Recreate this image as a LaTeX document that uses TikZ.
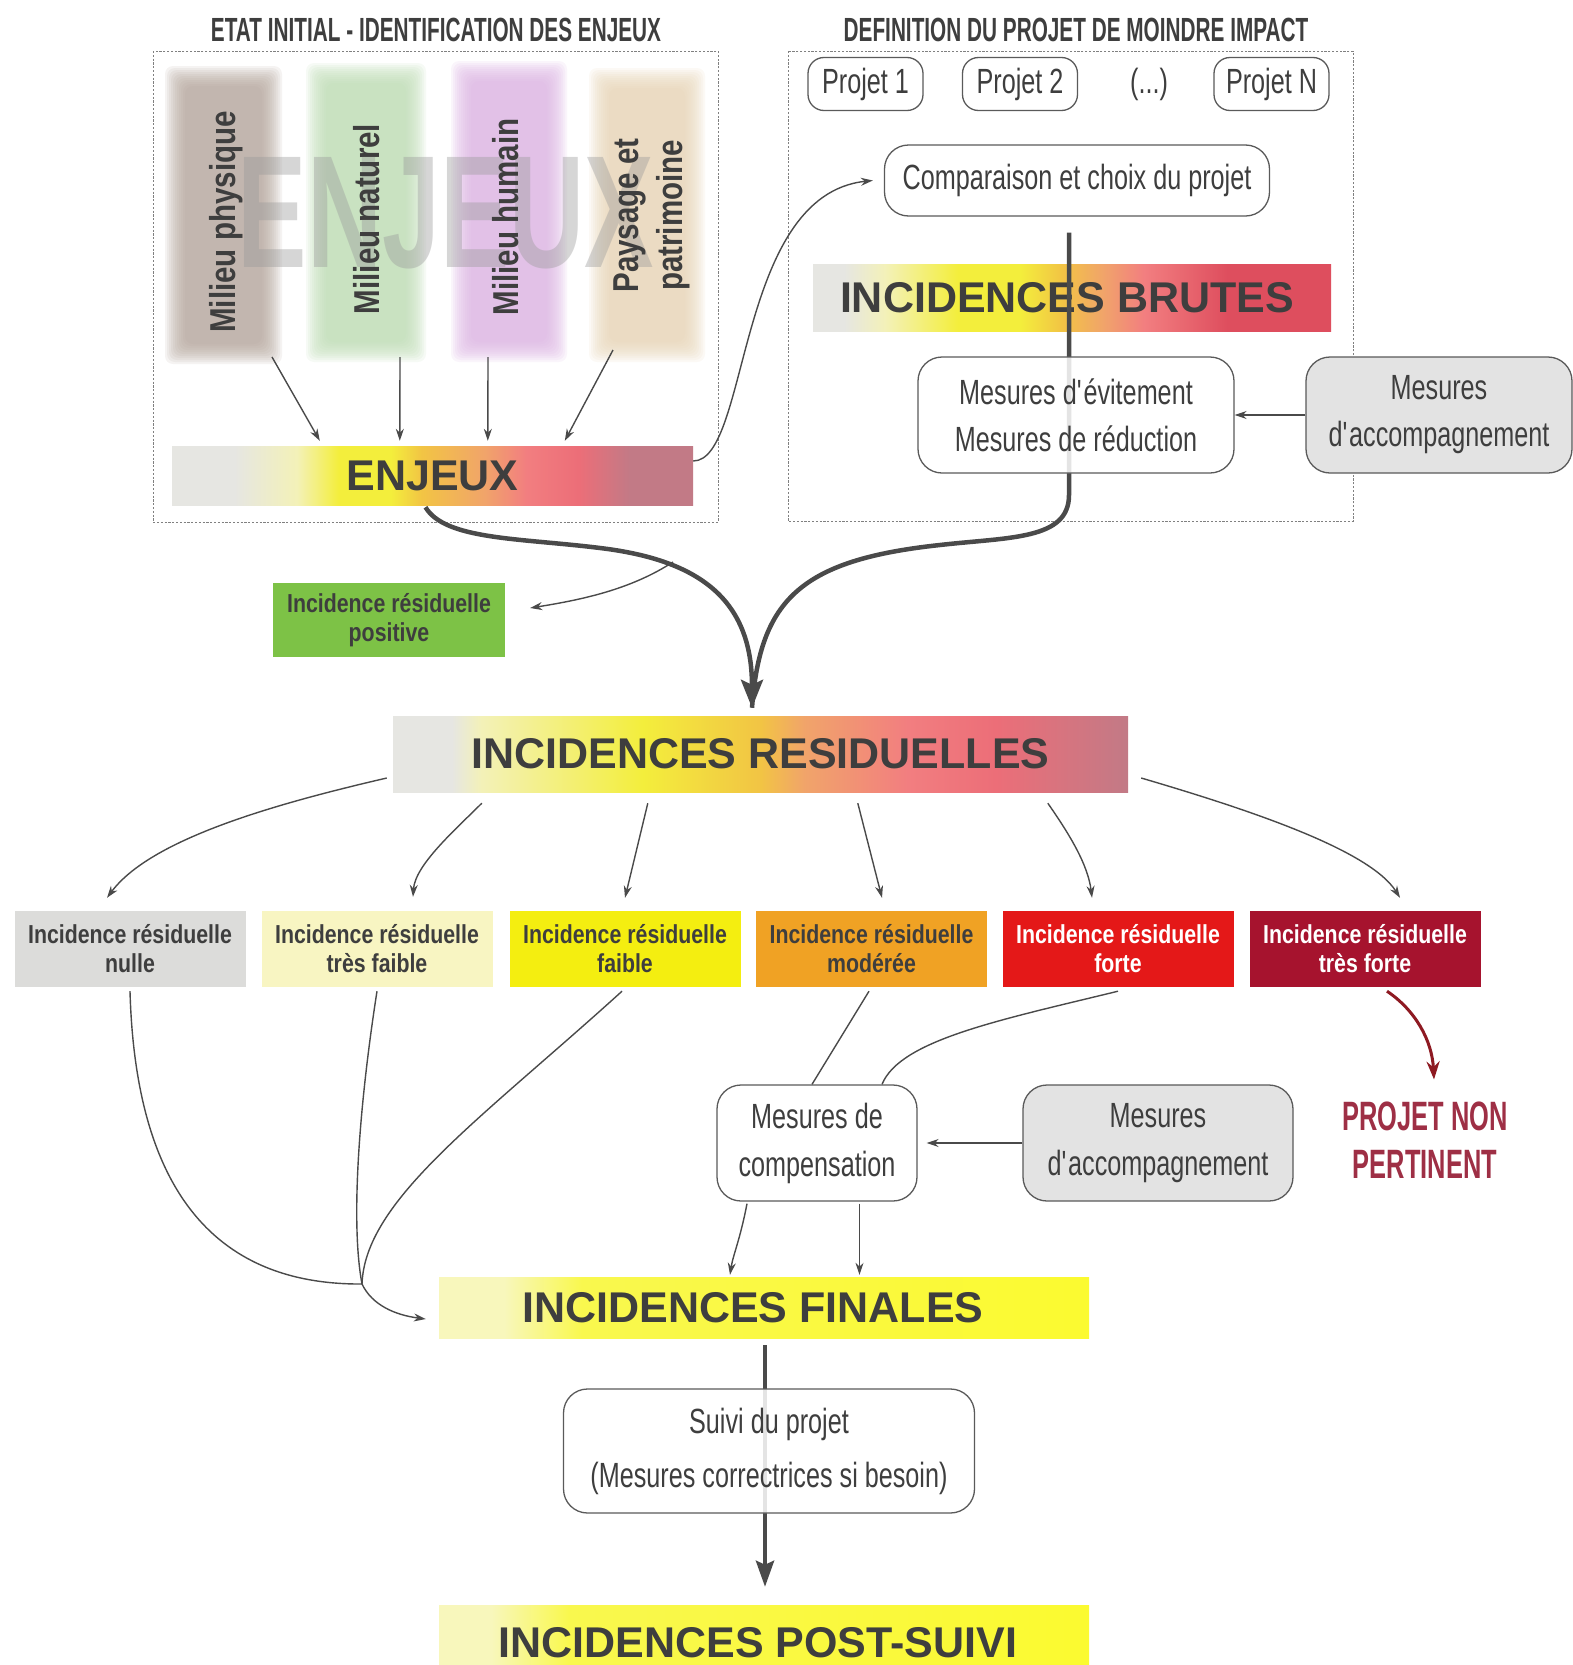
\documentclass[tikz,border=0pt]{standalone}
\usepackage{fontspec}
\setmainfont{Liberation Sans}
\newfontfamily\fR[FakeStretch=0.72]{Liberation Sans}
\newfontfamily\fB[FakeStretch=0.82]{Liberation Sans}
\newfontfamily\fT[FakeStretch=0.62]{Liberation Sans}
\newfontfamily\fW[FakeStretch=0.65]{Liberation Sans}
\usetikzlibrary{arrows.meta,calc}

\definecolor{ink}{HTML}{3E3E3E}
\definecolor{lineC}{HTML}{4A4A4A}
\definecolor{boxline}{HTML}{5A5A5A}
\definecolor{dashC}{HTML}{808080}
\definecolor{accF}{HTML}{E3E3E3}
\definecolor{darkred}{HTML}{8E1A22}
\definecolor{pnpC}{HTML}{9E2F45}
\definecolor{colPhys}{HTML}{B3A39A}
\definecolor{colNat}{HTML}{BCDDB2}
\definecolor{colHum}{HTML}{DDB2E3}
\definecolor{colPay}{HTML}{E8D4B4}
\definecolor{cNulle}{HTML}{DCDCDA}
\definecolor{cTF}{HTML}{F8F5C2}
\definecolor{cF}{HTML}{F4EE10}
\definecolor{cMod}{HTML}{F0A224}
\definecolor{cFor}{HTML}{E41818}
\definecolor{cTFo}{HTML}{A6132E}
\definecolor{cPos}{HTML}{7DC246}
\definecolor{g0}{HTML}{E6E6E2}
\definecolor{g1}{HTML}{F3F1B8}
\definecolor{g2}{HTML}{F3EE3C}
\definecolor{g3}{HTML}{F2C444}
\definecolor{g4}{HTML}{F1A46A}
\definecolor{g5}{HTML}{F27E80}
\definecolor{g6}{HTML}{EC6E78}
\definecolor{g7}{HTML}{C27A86}
\definecolor{g8}{HTML}{DE4E5E}
\definecolor{y0}{HTML}{F8F7BC}
\definecolor{y1}{HTML}{F9F84E}
\definecolor{y2}{HTML}{FBFA30}

\pgfdeclarehorizontalshading{shEnj}{100bp}{color(0bp)=(g0); color(25bp)=(g0); color(31bp)=(g0); color(37bp)=(g1); color(41bp)=(g2); color(46bp)=(g2); color(49bp)=(g3); color(55bp)=(g4); color(59bp)=(g5); color(64bp)=(g6); color(69bp)=(g7); color(75bp)=(g7); color(100bp)=(g7)}
\pgfdeclarehorizontalshading{shRes}{100bp}{color(0bp)=(g0); color(25bp)=(g0); color(29bp)=(g0); color(31bp)=(g1); color(42bp)=(g2); color(50bp)=(g3); color(53bp)=(g4); color(60bp)=(g5); color(66bp)=(g6); color(75bp)=(g7); color(100bp)=(g7)}
\pgfdeclarehorizontalshading{shBrut}{100bp}{color(0bp)=(g0); color(25bp)=(g0); color(28bp)=(g0); color(32bp)=(g1); color(39bp)=(g2); color(45bp)=(g2); color(49bp)=(g3); color(53bp)=(g4); color(57bp)=(g5); color(65bp)=(g8); color(75bp)=(g8); color(100bp)=(g8)}
\pgfdeclarehorizontalshading{shFin}{100bp}{color(0bp)=(y0); color(25bp)=(y0); color(30bp)=(y0); color(36bp)=(y1); color(75bp)=(y2); color(100bp)=(y2)}
\pgfdeclarehorizontalshading{shPost}{100bp}{color(0bp)=(y0); color(25bp)=(y0); color(29bp)=(y0); color(35bp)=(y1); color(75bp)=(y2); color(100bp)=(y2)}

\tikzset{
  dashbox/.style={draw=dashC, line width=1pt, dash pattern=on 2.2pt off 1.6pt},
  rbox/.style={draw=boxline, line width=1.3pt, rounded corners=24pt, fill=white, fill opacity=0.85, text opacity=1, text=ink, align=center, inner sep=0pt},
  rtext/.style={font=\fR\fontsize{35}{47}\selectfont},
  grbox/.style={rbox, fill=accF, fill opacity=1},
  coltext/.style={rotate=90, inner sep=0pt, align=center, text=ink, font=\fB\bfseries\fontsize{36}{44}\selectfont},
  barnode/.style={inner sep=0pt, text=ink, font=\bfseries\fontsize{43}{43}\selectfont},
  lvl/.style={inner sep=0pt, minimum width=231pt, minimum height=76pt, align=center, font=\fB\bfseries\fontsize{26}{29}\selectfont, text=ink},
  titlef/.style={inner sep=0pt, text=ink, font=\fT\bfseries\fontsize{33.5}{40}\selectfont},
  wmark/.style={inner sep=0pt, font=\fW\bfseries\fontsize{160}{160}\selectfont, text=black!40, opacity=0.4},
  arr/.style={draw=lineC, line width=1.4pt, -{Stealth[length=12pt,width=8pt]}},
  thinline/.style={draw=lineC, line width=1.4pt},
  bigline/.style={draw=lineC, line width=4.5pt},
  bigarr/.style={bigline, -{Stealth[length=28pt,width=22pt,inset=5pt]}},
}

\begin{document}
\begin{tikzpicture}[x=1pt,y=-1pt]
\clip (0,0) rectangle (1573,1665);
\fill[white] (0,0) rectangle (1573,1665);

% titles
\node[titlef] (t1) at (436,30) {ETAT INITIAL - IDENTIFICATION DES ENJEUX};
\node[titlef] (t2) at (1076,30) {DEFINITION DU PROJET DE MOINDRE IMPACT};

% dashed frames
\draw[dashbox] (153,51) rectangle (718,522);
\draw[dashbox] (788,51) rectangle (1353,521);

% soft (blurred) coloured columns
\foreach \xa/\ya/\xb/\yb/\c in {175/76/272/354/colPhys, 316/73/416/352/colNat, 461/71/557/352/colHum, 599/78/695/352/colPay}{
  \foreach \i in {10,8,6,4,2,0,-2,-4,-6,-8,-10}{
    \fill[\c, opacity=0.12, rounded corners=8pt] ({\xa-\i},{\ya-\i}) rectangle ({\xb+\i},{\yb+\i});
  }
}
% watermark
\node[wmark] (wm) at (446,213) {ENJEUX};

% column labels
\node[coltext] (phys) at (226,222) {Milieu physique};
\node[coltext] (nat) at (367,219) {Milieu naturel};
\node[coltext] (hum) at (506,217) {Milieu humain};
\node[coltext] (pay) at (652,215.5) {Paysage et\\patrimoine};

% ENJEUX bar
\node[barnode, shading=shEnj, minimum width=521pt, minimum height=59pt] (enj) at (432.5,475.5) {ENJEUX};

\coordinate (physB) at (272,357);
\coordinate (natB) at (400,357);
\coordinate (humB) at (488,357);
\coordinate (payB) at (613,350);
\draw[arr] (physB) -- ($(enj.north west)+(148,-5)$);
\draw[arr] (natB) -- ($(enj.north west)+(228,-5)$);
\draw[arr] (humB) -- ($(enj.north west)+(316,-5)$);
\draw[arr] (payB) -- ($(enj.north west)+(393,-5)$);

% projects
\node[rbox, rtext, minimum width=115pt, minimum height=53pt, rounded corners=16pt] (p1) at (865.5,84) {Projet 1};
\node[rbox, rtext, minimum width=115pt, minimum height=53pt, rounded corners=16pt] (p2) at (1020,84) {Projet 2};
\node[rtext, inner sep=0pt, text=ink] (pdots) at (1149,84) {(...)};
\node[rbox, rtext, minimum width=115pt, minimum height=53pt, rounded corners=16pt] (pN) at (1271.5,84) {Projet N};

\node[rbox, rtext, minimum width=385pt, minimum height=71pt] (comp) at (1077,180.5) {Comparaison et choix du projet};

\draw[arr] ($(enj.east)+(0,-14.5)$) .. controls (750,461) and (735,195) .. ($(comp.west)+(-11,0)$);

% INCIDENCES BRUTES
\node[barnode, shading=shBrut, minimum width=518pt, minimum height=67pt] (brut) at (1072,297.5) {\hspace*{-10pt}INCIDENCES BRUTES};

% RESIDUELLES bar
\node[barnode, shading=shRes, minimum width=735pt, minimum height=76pt] (res) at (760.5,754) {INCIDENCES RESIDUELLES};
\coordinate (meet) at ($(res.north)+(-8.5,-8)$);

% thick connectors
\draw[bigline] ($(comp.south)+(-8,16)$) -- (1069,495) .. controls (1069,540) and (1010,537) .. (940,545) .. controls (800,560) and (760,600) .. (meet);
\draw[bigarr] ($(enj.south)+(-7,2)$) .. controls (445,540) and (520,538) .. (600,548) .. controls (700,560) and (752,600) .. (meet);

% evitement / reduction
\node[rbox, rtext, minimum width=316pt, minimum height=116pt] (evit) at (1076,415) {Mesures d\textquotesingle évitement\\Mesures de réduction};
\node[grbox, rtext, minimum width=266pt, minimum height=116pt] (acc1) at (1439,415) {Mesures\\d\textquotesingle accompagnement};
\draw[arr] (acc1.west) -- (evit.east);

% positive
\node[lvl, fill=cPos, minimum width=232pt, minimum height=74pt] (pos) at (389,620) {Incidence résiduelle\\positive};
\coordinate (br) at (673,562);
\draw[arr] (br) .. controls (630,590) and (580,600) .. ($(pos.east)+(25,-12)$);

% residual levels
\node[lvl, fill=cNulle] (l0) at (130,949) {Incidence résiduelle\\nulle};
\node[lvl, fill=cTF] (l1) at (377,949) {Incidence résiduelle\\très faible};
\node[lvl, fill=cF] (l2) at (625,949) {Incidence résiduelle\\faible};
\node[lvl, fill=cMod] (l3) at (871.5,949) {Incidence résiduelle\\modérée};
\node[lvl, fill=cFor, text=white] (l4) at (1118,949) {Incidence résiduelle\\forte};
\node[lvl, fill=cTFo, text=white] (l5) at (1365,949) {Incidence résiduelle\\très forte};

\draw[arr] ($(res.west)+(-6,24)$) .. controls (270,805) and (150,840) .. ($(l0.north)+(-23,-13)$);
\draw[arr] ($(res.south west)+(89,11)$) .. controls (455,830) and (415,865) .. ($(l1.north)+(36,-14)$);
\draw[arr] ($(res.south west)+(255,11)$) -- ($(l2.north)+(0,-13)$);
\draw[arr] ($(res.south west)+(465,11)$) -- ($(l3.north)+(10.5,-13)$);
\draw[arr] ($(res.south west)+(655,11)$) .. controls (1070,835) and (1088,865) .. ($(l4.north)+(-26,-13)$);
\draw[arr] ($(res.east)+(13,24)$) .. controls (1250,810) and (1370,850) .. ($(l5.north)+(35,-13)$);

% projet non pertinent
\node[inner sep=0pt, align=center, text=pnpC, font=\fT\bfseries\fontsize{41}{48}\selectfont] (pnp) at (1425,1140) {PROJET NON\\PERTINENT};
\draw[draw=darkred, line width=3pt, -{Stealth[length=18pt,width=13pt]}] ($(l5.south)+(22,4)$) .. controls (1415,1010) and (1432,1040) .. ($(pnp.north)+(9,-22)$);

% compensation
\node[rbox, rtext, minimum width=200pt, minimum height=116pt, font=\fR\fontsize{35}{48}\selectfont] (cmp) at (817,1143) {Mesures de\\compensation};
\node[grbox, rtext, minimum width=270pt, minimum height=116pt, font=\fR\fontsize{35}{48}\selectfont] (acc2) at (1158,1143) {Mesures\\d\textquotesingle accompagnement};
\draw[arr] (acc2.west) -- ($(cmp.east)+(9,0)$);
\draw[thinline] ($(l3.south)+(-2.5,4)$) -- ($(cmp.north)+(-5,0)$);
\draw[thinline] ($(l4.south)+(0,4)$) .. controls (1000,1020) and (900,1040) .. ($(cmp.north)+(65,0)$);

% finales
\node[barnode, shading=shFin, minimum width=650pt, minimum height=61pt] (fin) at (764,1307.5) {\hspace*{-22pt}INCIDENCES FINALES};
\draw[arr] ($(cmp.south)+(-70,2)$) .. controls (740,1240) and (733,1255) .. ($(fin.north)+(-34,-2)$);
\draw[arr] ($(cmp.south)+(42.5,2)$) -- ($(fin.north)+(95.5,-2)$);

\coordinate (mg) at (362,1284);
\draw[thinline] ($(l0.south)+(0,4)$) .. controls (135,1170) and (200,1285) .. (mg);
\draw[thinline] ($(l1.south)+(0,4)$) .. controls (360,1100) and (350,1220) .. (mg);
\draw[thinline] ($(l2.south)+(-3,4)$) .. controls (480,1120) and (365,1200) .. (mg);
\draw[arr] (mg) .. controls (372,1305) and (395,1315) .. ($(fin.west)+(-13,11.5)$);

% post-suivi
\node[barnode, shading=shPost, minimum width=650pt, minimum height=76pt] (post) at (764,1643) {\hspace*{-12pt}INCIDENCES POST-SUIVI};
\draw[bigline, -{Stealth[length=26pt,width=18pt,inset=4pt]}] ($(fin.south)+(1,7)$) -- ($(post.north)+(1,-18)$);
\node[rbox, rtext, minimum width=411pt, minimum height=124pt, font=\fR\fontsize{35}{54}\selectfont] (suivi) at (769,1451) {Suivi du projet\\(Mesures correctrices si besoin)};

\end{tikzpicture}
\end{document}
